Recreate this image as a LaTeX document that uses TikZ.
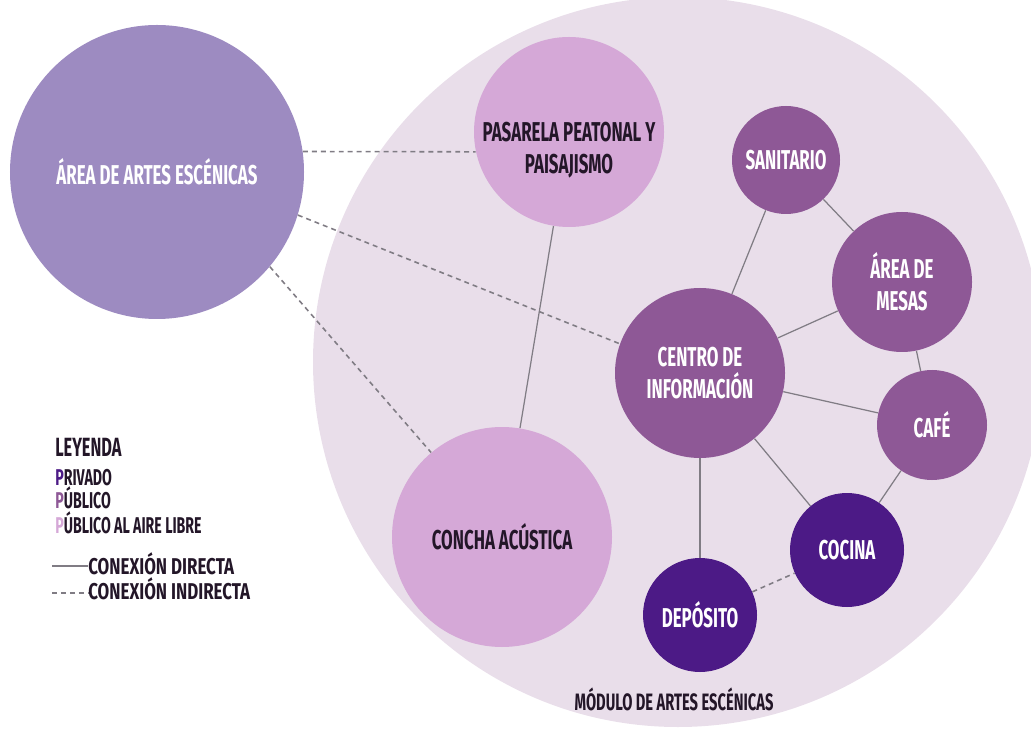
\documentclass[tikz,border=0pt]{standalone}
\usepackage{fontspec}
\setmainfont{Fira Sans}[FakeStretch=0.62]
\newfontfamily\anchafont{Fira Sans}[FakeStretch=0.74]
\usepackage{tikz}
\definecolor{modulo}{RGB}{233,222,234}
\definecolor{lavanda}{RGB}{157,139,193}
\definecolor{rosa}{RGB}{213,168,215}
\definecolor{malva}{RGB}{142,88,150}
\definecolor{uva}{RGB}{76,26,134}
\definecolor{tinta}{RGB}{35,22,40}
\definecolor{linea}{RGB}{128,124,132}

\begin{document}
\begin{tikzpicture}[font=\bfseries,
  zona/.style={circle,inner sep=0pt,align=center,text=white,font=\bfseries\fontsize{15.5}{18}\selectfont},
  directa/.style={draw=linea,line width=.7pt},
  indirecta/.style={draw=linea,line width=.9pt,dash pattern=on 2.8pt off 2.3pt},
  ley/.style={anchor=base west,text=tinta,inner sep=0pt,font=\bfseries\fontsize{13}{15}\selectfont},
  leycon/.style={ley,font=\anchafont\bfseries\fontsize{13}{15}\selectfont}]
\clip (0,0) rectangle (20.62,14.66);
% modulo de artes escenicas
\fill[modulo] (13.56,7.42) circle (7.3);
\node[anchor=base,text=tinta,font=\bfseries\fontsize{13.5}{15}\selectfont] (modulo) at (13.48,.46) {MÓDULO DE ARTES ESCÉNICAS};

\node[zona,fill=lavanda,minimum size=5.88cm] (artes) at (3.14,11.22) {ÁREA DE ARTES ESCÉNICAS};
\node[zona,fill=rosa,minimum size=3.8cm] (pasarela) at (11.38,12.02) {};
\node[zona,text=tinta] (pasarelatxt) at ([yshift=-.36cm]pasarela) {PASARELA PEATONAL Y\\PAISAJISMO};
\node[zona,fill=rosa,text=tinta,minimum size=4.4cm] (concha) at (10.04,3.92) {CONCHA ACÚSTICA};
\node[zona,fill=malva,minimum size=2.16cm] (sanitario) at (15.72,11.46) {SANITARIO};
\node[zona,fill=malva,minimum size=2.8cm] (mesas) at (18.04,9.02) {ÁREA DE\\MESAS};
\node[zona,fill=malva,minimum size=3.4cm] (centro) at (14,7.2) {CENTRO DE\\INFORMACIÓN};
\node[zona,fill=malva,minimum size=2.2cm] (cafe) at (18.64,6.16) {CAFÉ};
\node[zona,fill=uva,minimum size=2.28cm] (cocina) at (16.94,3.66) {COCINA};
\node[zona,fill=uva,minimum size=2.28cm] (deposito) at (14,2.36) {DEPÓSITO};

% conexiones
\draw[directa] (pasarela) -- (concha);
\draw[directa] (sanitario) -- (centro);
\draw[directa] (sanitario) -- (mesas);
\draw[directa] (mesas) -- (centro);
\draw[directa] (mesas) -- (cafe);
\draw[directa] (centro) -- (cafe);
\draw[directa] (centro) -- (cocina);
\draw[directa] (centro) -- (deposito);
\draw[directa] (cafe) -- (cocina);
\draw[indirecta] (artes.8) -- (pasarela.192);
\draw[indirecta] (artes.-17) -- (centro.160);
\draw[indirecta] (artes.-40) -- (concha.130);
\draw[indirecta] (deposito) -- (cocina);

% leyenda
\node[ley,font=\bfseries\fontsize{15}{17}\selectfont] (leyenda) at (1.1,5.54) {LEYENDA};
\node[ley] (privado) at (1.1,4.96) {\textcolor{uva}{P}RIVADO};
\node[ley] (publico) at (1.1,4.5) {\textcolor{malva}{P}ÚBLICO};
\node[ley] (libre) at (1.1,4) {\textcolor{rosa}{P}ÚBLICO AL AIRE LIBRE};
\node[leycon] (leydir) at (1.76,3.17) {CONEXIÓN DIRECTA};
\node[leycon] (leyind) at (1.76,2.67) {CONEXIÓN INDIRECTA};
\coordinate (d1) at (1.04,3.34);
\coordinate (d2) at (1.04,2.8);
\draw[directa] (d1) -- (d1 -| leydir.west);
\draw[indirecta] (d2) -- (d2 -| leyind.west);
\end{tikzpicture}
\end{document}
